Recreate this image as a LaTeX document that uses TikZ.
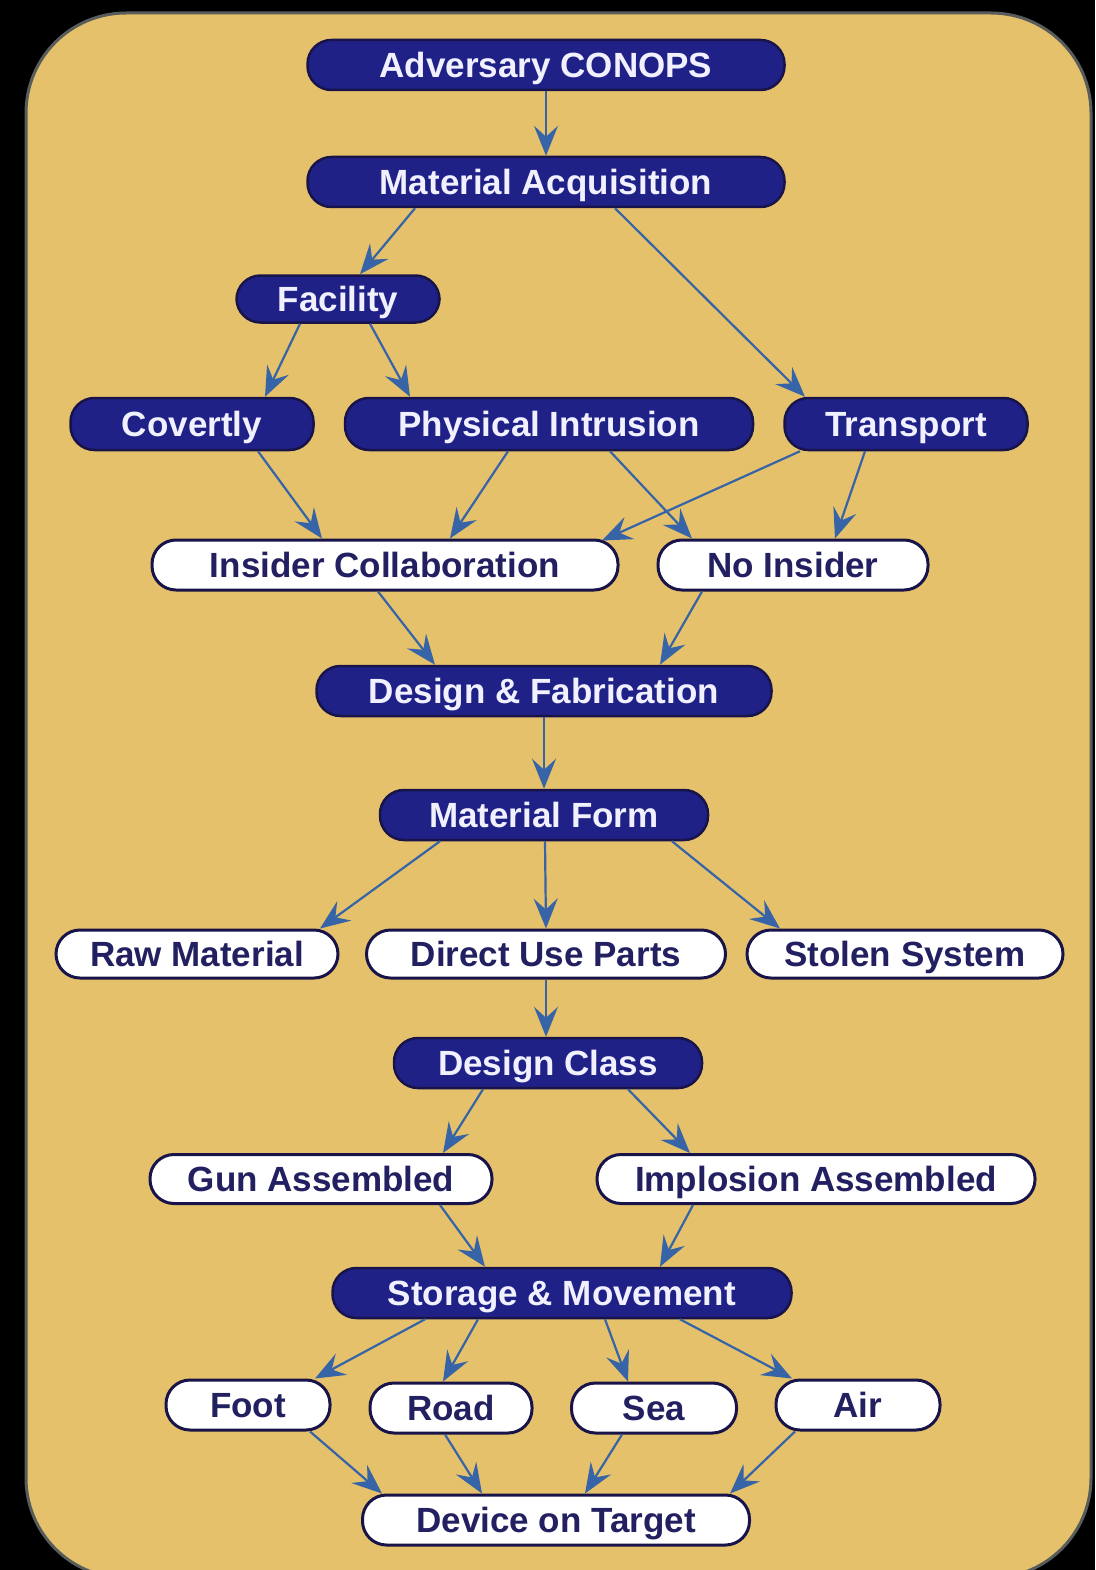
\documentclass[tikz,border=0pt]{standalone}
\usepackage{fontspec}
\setmainfont{Liberation Sans}
\usetikzlibrary{arrows.meta}
\definecolor{panel}{RGB}{229,193,107}
\definecolor{panelrim}{RGB}{88,92,90}
\definecolor{navy}{RGB}{31,33,135}
\definecolor{rim}{RGB}{24,20,74}
\definecolor{ink}{RGB}{34,32,96}
\definecolor{flowblue}{RGB}{55,100,166}
\begin{document}
\begin{tikzpicture}[x=1pt,y=-1pt,
    box/.style={rectangle,rounded corners=24pt,minimum height=50pt,inner sep=0pt,
      font=\fontsize{35}{40}\selectfont\bfseries,text height=25pt,text depth=0pt},
    darkbox/.style={box,fill=navy,draw=rim,line width=2.5pt,text=white!94!blue},
    lightbox/.style={box,fill=white,draw=rim,line width=3pt,text=ink},
    flow/.style={draw=flowblue,line width=2.2pt,
      -{Stealth[length=30pt 0,width=24pt 0,inset=11pt 0]}}]
    \useasboundingbox (0,0) rectangle (1095,1570);
    \fill[black] (0,0) rectangle (1095,1570);
    \begin{scope}
        \clip (0,0) rectangle (1095,1570);
        \draw[fill=panel,draw=panelrim,line width=3pt,rounded corners=100pt] (26,13) rectangle (1091,1578);
    \end{scope}

    % steps
    \node[darkbox,minimum width=477pt] (conops) at (546,65) {Adversary CONOPS};
    \node[darkbox,minimum width=477pt] (acq) at (546,182) {Material Acquisition};
    \node[darkbox,minimum width=203pt,minimum height=47pt] (fac) at (338,299) {Facility};
    \node[darkbox,minimum width=243pt,minimum height=52pt] (covert) at (192,424) {Covertly};
    \node[darkbox,minimum width=408pt,minimum height=52pt] (intrude) at (549,424) {Physical Intrusion};
    \node[darkbox,minimum width=243pt,minimum height=52pt] (transp) at (906,424) {Transport};
    \node[lightbox,minimum width=466pt] (insider) at (385,565) {Insider Collaboration};
    \node[lightbox,minimum width=270pt] (noins) at (793,565) {No Insider};
    \node[darkbox,minimum width=455pt] (dfab) at (544,691) {Design \& Fabrication};
    \node[darkbox,minimum width=328pt] (mform) at (544,815) {Material Form};
    \node[lightbox,minimum width=282pt,minimum height=48pt] (raw) at (197,954) {Raw Material};
    \node[lightbox,minimum width=359pt,minimum height=48pt] (direct) at (546,954) {Direct Use Parts};
    \node[lightbox,minimum width=316pt,minimum height=48pt] (stolen) at (905,954) {Stolen System};
    \node[darkbox,minimum width=308pt] (dclass) at (548,1063) {Design Class};
    \node[lightbox,minimum width=342pt,minimum height=49pt] (gun) at (321,1179) {Gun Assembled};
    \node[lightbox,minimum width=438pt,minimum height=49pt] (implo) at (816,1179) {Implosion Assembled};
    \node[darkbox,minimum width=459pt] (store) at (562,1293) {Storage \& Movement};
    \node[lightbox,minimum width=164pt] (foot) at (248,1405) {Foot};
    \node[lightbox,minimum width=162pt] (road) at (451,1408) {Road};
    \node[lightbox,minimum width=165pt] (sea) at (654,1408) {Sea};
    \node[lightbox,minimum width=164pt] (air) at (858,1405) {Air};
    \node[lightbox,minimum width=387pt] (target) at (556,1520) {Device on Target};

    % links
    \draw[flow] (conops) -- (acq);
    \draw[flow] ([xshift=-131pt]acq.south) -- ([xshift=22pt]fac.north);
    \draw[flow] ([xshift=69pt]acq.south) -- ([xshift=-101pt]transp.north);
    \draw[flow] ([xshift=-38pt]fac.south) -- ([xshift=73pt]covert.north);
    \draw[flow] ([xshift=32pt]fac.south) -- ([xshift=-139pt]intrude.north);
    \draw[flow] ([xshift=66pt]covert.south) -- ([xshift=-63pt]insider.north);
    \draw[flow] ([xshift=-41pt]intrude.south) -- ([xshift=65pt]insider.north);
    \draw[flow] ([xshift=61pt]intrude.south) -- ([xshift=-101pt]noins.north);
    \draw[flow] ([xshift=-106pt]transp.south) -- ([xshift=217pt,yshift=-2pt]insider.north);
    \draw[flow] ([xshift=-41pt]transp.south) -- ([xshift=42pt]noins.north);
    \draw[flow] ([xshift=-7pt]insider.south) -- ([xshift=-109pt]dfab.north);
    \draw[flow] ([xshift=-91pt]noins.south) -- ([xshift=116pt]dfab.north);
    \draw[flow] (dfab) -- (mform);
    \draw[flow] ([xshift=-104pt]mform.south) -- ([xshift=123pt]raw.north);
    \draw[flow] ([xshift=1pt]mform.south) -- ([xshift=0pt]direct.north);
    \draw[flow] ([xshift=128pt]mform.south) -- ([xshift=-125pt]stolen.north);
    \draw[flow] (direct.south) -- ([xshift=-2pt]dclass.north);
    \draw[flow] ([xshift=-65pt]dclass.south) -- ([xshift=122pt]gun.north);
    \draw[flow] ([xshift=80pt]dclass.south) -- ([xshift=-126pt]implo.north);
    \draw[flow] ([xshift=119pt]gun.south) -- ([xshift=-77pt]store.north);
    \draw[flow] ([xshift=-123pt]implo.south) -- ([xshift=98pt]store.north);
    \draw[flow] ([xshift=-137pt]store.south) -- ([xshift=67pt]foot.north);
    \draw[flow] ([xshift=-84pt]store.south) -- ([xshift=-8pt]road.north);
    \draw[flow] ([xshift=43pt]store.south) -- ([xshift=-26pt]sea.north);
    \draw[flow] ([xshift=118pt]store.south) -- ([xshift=-66pt]air.north);
    \draw[flow] ([xshift=62pt]foot.south) -- ([xshift=-174pt]target.north);
    \draw[flow] ([xshift=-6pt]road.south) -- ([xshift=-74pt]target.north);
    \draw[flow] ([xshift=-32pt]sea.south) -- ([xshift=29pt]target.north);
    \draw[flow] ([xshift=-63pt]air.south) -- ([xshift=174pt]target.north);
\end{tikzpicture}
\end{document}
